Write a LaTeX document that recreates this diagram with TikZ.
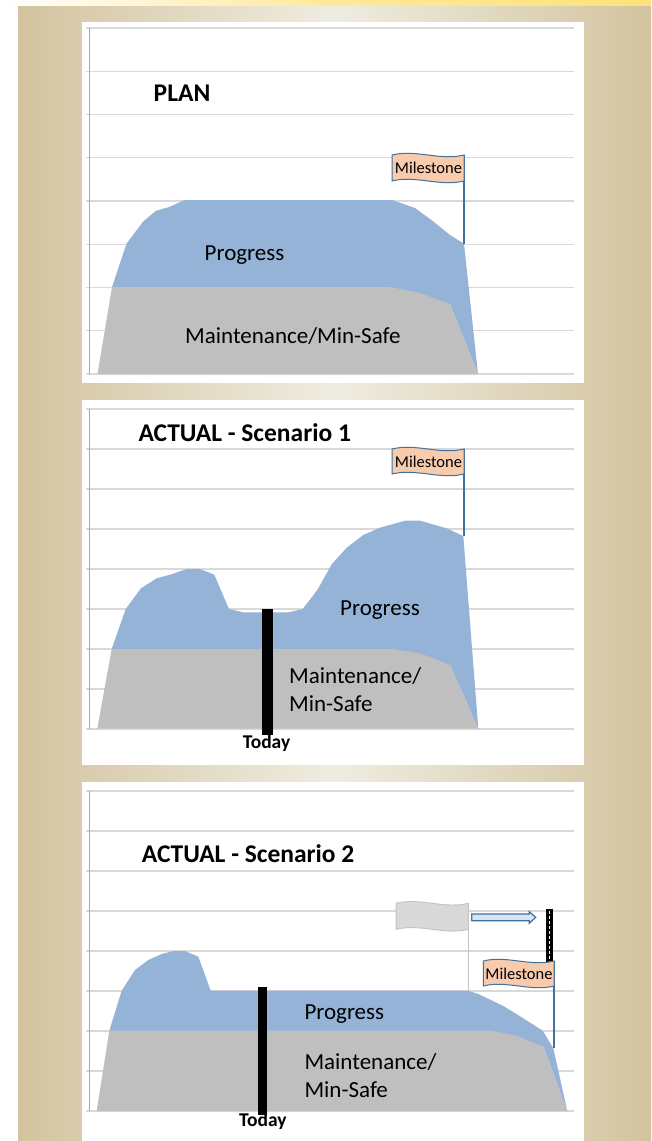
\documentclass[tikz,border=0pt]{standalone}
\usepackage{fontspec}
\setmainfont{Carlito}
\usetikzlibrary{positioning}

\definecolor{progblue}{HTML}{95B3D7}
\definecolor{maintgray}{HTML}{BFBFBF}
\definecolor{gridgray}{HTML}{D9D9D9}
\definecolor{axisgray}{HTML}{A6A6A6}
\definecolor{flagblue}{HTML}{41719C}
\definecolor{flagorange}{HTML}{F8CBAD}
\definecolor{ghostfill}{HTML}{D9D9D9}
\definecolor{ghostedge}{HTML}{C4C4C4}
\definecolor{arrowfill}{HTML}{DAE3F3}
\definecolor{bgtan}{HTML}{D3C49F}
\definecolor{bgcream}{HTML}{EFECE1}
\definecolor{stripyellow}{HTML}{FDE27A}

\newcommand{\titlefont}{\bfseries\fontsize{25.5}{30}\selectfont}
\newcommand{\labelfont}{\fontsize{23}{28}\selectfont}
\newcommand{\flagfont}{\fontsize{16.5}{18}\selectfont}
\newcommand{\todayfont}{\bfseries\fontsize{19.5}{22}\selectfont}

% wavy flag: style, x0, y0, x1, y1
\newcommand{\waveflag}[5]{%
  \draw[#1] (#2,#3) .. controls ({#2+(#4-#2)/3},{#3-6}) and ({#2+2*(#4-#2)/3},{#3+6}) .. (#4,#3)
    -- (#4,#5) .. controls ({#2+2*(#4-#2)/3},{#5+6}) and ({#2+(#4-#2)/3},{#5-6}) .. (#2,#5) -- cycle;}

\begin{document}
\begin{tikzpicture}[x=1pt, y=-1pt, gridline/.style={draw=gridgray, line width=1.2pt}, axisline/.style={draw=axisgray, line width=1pt}, progressarea/.style={fill=progblue}, maintarea/.style={fill=maintgray}, flagframe/.style={draw=flagblue, line width=1pt, fill=flagorange}, ghostflag/.style={draw=ghostedge, line width=1pt, fill=ghostfill}, pole/.style={draw=flagblue, line width=1.2pt}, ghostpole/.style={draw=ghostedge, line width=1.2pt}, todaybar/.style={fill=black}, title/.style={font=\titlefont, inner sep=0pt, anchor=west}, label/.style={font=\labelfont, inner sep=0pt, anchor=west, align=left}, flagtext/.style={font=\flagfont, inner sep=0pt}, todaytext/.style={font=\todayfont, inner sep=0pt}]
\useasboundingbox (0,0) rectangle (651,1141);
% background
\fill[white] (0,0) rectangle (651,1141);
\shade[left color=white, right color=stripyellow, middle color=stripyellow!75!white] (0,0) rectangle (651,6);
\shade[left color=bgtan, right color=bgtan, middle color=bgcream] (18,6) rectangle (651,1141);
\fill[white] (82,22) rectangle (584,383);
\fill[white] (82,400) rectangle (584,765);
\fill[white] (82,782) rectangle (584,1141);
% grids
\foreach \i in {0,...,8} {
  \draw[gridline] (86,28+\i*43.25) -- (574,28+\i*43.25);
  \draw[gridline] (86,409+\i*40) -- (574,409+\i*40);
  \draw[gridline] (86,791+\i*40) -- (574,791+\i*40);
}
\draw[axisline] (89,28) -- (89,374);
\draw[axisline] (89,409) -- (89,729);
\draw[axisline] (89,791) -- (89,1111);

% PLAN
\fill[progressarea] (112,287) -- (126.5,243.7) -- (143,221.7) -- (155.6,211) -- (170,206.7) -- (184.6,200) -- (392,200) -- (415,208) -- (433.6,221.7) -- (450,235) -- (464,243.7) -- (478,374) -- (450,304) -- cycle;
\fill[maintarea] (97.5,374) -- (112,287) -- (390,287) -- (419,292.7) -- (450,304) -- (478,374) -- cycle;
\draw[pole] (464,155) -- (464,243.7);
\waveflag{flagframe}{392}{155}{464}{181}
\node[flagtext] (ms1) at (428.5,168) {Milestone};
\node[title] (plan) at (153.5,93) {PLAN};
\node[label] (prog1) at (204.5,255) {Progress};
\node[label] (maint1) at (185,336) {Maintenance/Min-Safe};

% ACTUAL - Scenario 1
\fill[progressarea] (111.7,649) -- (125.7,609) -- (141,588.3) -- (156.7,578.3) -- (170,574.7) -- (186.7,569) -- (200,569) -- (214.3,574.7) -- (229,609) -- (243.3,612.3) -- (288.3,612.3) -- (302.7,609) -- (317.3,590) -- (331.7,564.3) -- (346.7,547.7) -- (363.3,535) -- (380,527.7) -- (405,520.7) -- (420,520.7) -- (446.7,528.3) -- (463.3,536) -- (478.3,728.7) -- (450,665) -- cycle;
\fill[maintarea] (97.3,728.7) -- (111.7,649) -- (391.7,649) -- (420,653.3) -- (450,665) -- (478.3,728.7) -- cycle;
\draw[pole] (464,449) -- (464,536);
\waveflag{flagframe}{392}{449}{464}{474}
\node[flagtext] (ms2) at (428.5,461.5) {Milestone};
\fill[todaybar] (262.3,609) rectangle (272.7,735);
\node[todaytext] (today2) at (266.5,743) {Today};
\node[title] (act1) at (138.3,433) {ACTUAL - Scenario 1};
\node[label] (prog2) at (340,610) {Progress};
\node[label] (maint2) at (289,690) {Maintenance/\\Min-Safe};

% ACTUAL - Scenario 2
\fill[progressarea] (109.3,1030.7) -- (121.7,990.7) -- (135,970) -- (148.3,960) -- (161.7,954) -- (173.3,951) -- (185,951) -- (198.3,956.7) -- (210.7,990.7) -- (468.3,990.7) -- (478.3,994) -- (503.3,1006) -- (523.3,1018.3) -- (542.7,1030.7) -- (553.3,1048.3) -- (567.3,1111) -- (543.3,1046.7) -- cycle;
\fill[maintarea] (96.7,1111) -- (109.3,1030.7) -- (491.7,1030.7) -- (516.7,1035.7) -- (543.3,1046.7) -- (567.3,1111) -- cycle;
\draw[ghostpole] (468.3,903) -- (468.3,990.7);
\waveflag{ghostflag}{396}{903.3}{468.3}{929.3}
\draw[draw=flagblue, line width=1.2pt, fill=arrowfill] (471.7,914) -- (529.3,914) -- (529.3,911.7) -- (535.7,917.3) -- (529.3,923.3) -- (529.3,920.7) -- (471.7,920.7) -- cycle;
\fill[todaybar] (545.7,909) rectangle (553.3,965);
\draw[white, line width=1pt, dash pattern=on 3pt off 2pt] (549.5,911) -- (549.5,963);
\draw[pole] (554,961) -- (554,1048.3);
\waveflag{flagframe}{483.3}{961}{554}{986}
\node[flagtext] (ms3) at (519,973.5) {Milestone};
\fill[todaybar] (258.3,987) rectangle (266.7,1115);
\node[todaytext] (today3) at (262.8,1121) {Today};
\node[title] (act2) at (141.7,854) {ACTUAL - Scenario 2};
\node[label] (prog3) at (304.3,1014) {Progress};
\node[label] (maint3) at (304.3,1075.7) {Maintenance/\\Min-Safe};
\end{tikzpicture}
\end{document}
